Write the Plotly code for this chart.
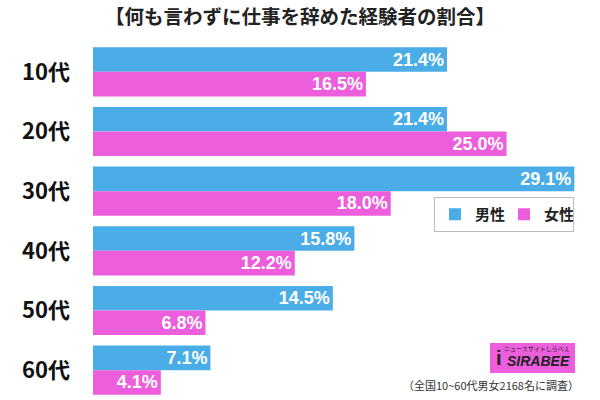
import plotly.graph_objects as go

categories = ["10代", "20代", "30代", "40代", "50代", "60代"]
male = [21.4, 21.4, 29.1, 15.8, 14.5, 7.1]
female = [16.5, 25.0, 18.0, 12.2, 6.8, 4.1]
series_names = ["男性", "女性"]
title_text = "【何も言わずに仕事を辞めた経験者の割合】"
note_text = "（全国10~60代男女2168名に調査）"

BLUE = "#4AADE7"
PINK = "#EC5EDC"
FONT = "Noto Sans CJK JP"

W, H = 600, 400
L, R, T, B = 93, 0, 42, 0
PW, PH = W - L - R, H - T - B


def px(x):
    return (x - L) / PW


def py(y):
    return (H - B - y) / PH


fig = go.Figure()
for name, vals, col in [(series_names[0], male, BLUE), (series_names[1], female, PINK)]:
    fig.add_trace(go.Bar(
        y=categories, x=vals, name=name, orientation="h",
        marker=dict(color=col, line=dict(width=0)),
        texttemplate="%{x:.1f}%", textposition="inside", insidetextanchor="end",
        textfont=dict(color="white", size=18, family="Arial", weight="bold"),
        constraintext="none", cliponaxis=False, hoverinfo="skip",
    ))

fig.update_layout(
    width=W, height=H,
    margin=dict(l=L, r=R, t=T, b=B),
    paper_bgcolor="white", plot_bgcolor="white",
    barmode="group", bargap=0.176, bargroupgap=0,
    showlegend=True,
    legend=dict(orientation="h", x=px(574), xanchor="right", y=py(197), yanchor="top",
                bordercolor="#BBBBBB", borderwidth=1, bgcolor="white",
                font=dict(family=FONT, size=15, color="#222", weight="bold"),
                itemwidth=30, entrywidth=24, entrywidthmode="pixels", traceorder="normal",
                tracegroupgap=0),
    title=dict(text=title_text, x=0.5, xref="container", xanchor="center",
               y=1 - 17 / H, yref="container", yanchor="middle",
               font=dict(family=FONT, size=19.5, color="#222", weight="bold")),
    xaxis=dict(range=[0, 30.65], visible=False, fixedrange=True),
    yaxis=dict(autorange="reversed", showline=False, showgrid=False, ticks="",
               automargin=False, ticklabelstandoff=22, fixedrange=True,
               tickfont=dict(family=FONT, size=22, color="#111", weight="bold")),
    font=dict(family=FONT),
)

# footnote
fig.add_annotation(text=note_text, xref="paper", yref="paper", x=px(581), y=py(385),
                   xanchor="right", yanchor="middle", showarrow=False,
                   font=dict(family=FONT, size=11, color="#333"))
# logo box
fig.add_shape(type="rect", xref="paper", yref="paper", x0=px(490), x1=px(575), y0=py(373), y1=py(343),
              fillcolor=PINK, line=dict(width=0), layer="above")
fig.add_annotation(text="<i><b>SIRABEE</b></i>", xref="paper", yref="paper", x=px(572), y=py(361),
                   xanchor="right", yanchor="middle",
                   showarrow=False, font=dict(family="Arial", size=14, color="#222"))
fig.add_annotation(text="<b>i</b>", xref="paper", yref="paper", x=px(499), y=py(358),
                   xanchor="center", yanchor="middle",
                   showarrow=False, font=dict(family="Arial", size=20, color="#222"))
fig.add_annotation(text="ニュースサイトしらべぇ", xref="paper", yref="paper", x=px(572), y=py(348),
                   xanchor="right", yanchor="middle",
                   showarrow=False, font=dict(family=FONT, size=6, color="#222"))

fig.write_html("out.html", config={"displayModeBar": False, "staticPlot": True},
               post_script="document.body.style.margin='0';")
